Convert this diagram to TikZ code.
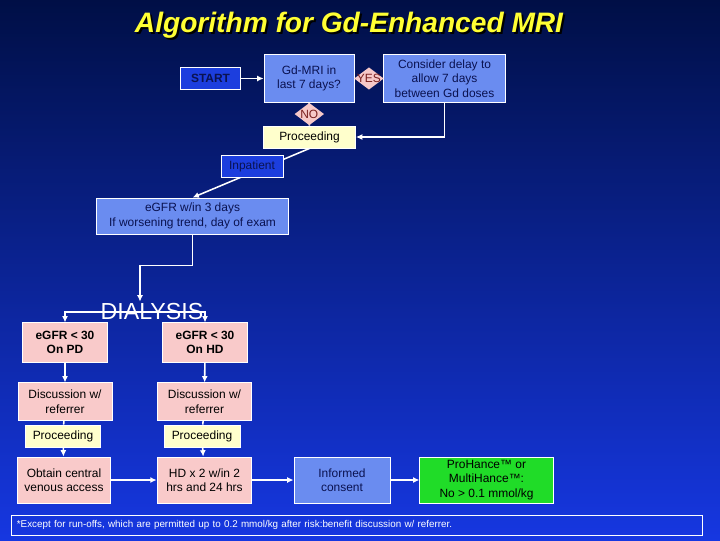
\documentclass[tikz,border=0pt]{standalone}
\usepackage{fontspec}
\setmainfont{Liberation Sans}
\usetikzlibrary{positioning, arrows.meta, shapes.geometric}

\definecolor{bgtop}{RGB}{0,15,70}
\definecolor{bgmid}{RGB}{12,40,165}
\definecolor{bgbottom}{RGB}{22,55,225}
\definecolor{lightblue}{RGB}{106,140,240}
\definecolor{midblue}{RGB}{28,62,222}
\definecolor{darktext}{RGB}{10,18,80}
\definecolor{pinkfill}{RGB}{249,202,202}
\definecolor{pinkdiamond}{RGB}{246,200,200}
\definecolor{diamondtext}{RGB}{120,30,30}
\definecolor{yellowfill}{RGB}{255,255,204}
\definecolor{greenfill}{RGB}{32,220,40}
\definecolor{titleyellow}{RGB}{255,255,51}

\begin{document}
\begin{tikzpicture}[
    x=0.025cm, y=-0.025cm,
    box/.style={draw=white, line width=0.6pt, inner sep=1pt, align=center, font=\fontsize{8.5}{10.3}\selectfont, text=darktext},
    bluebox/.style={box, fill=lightblue},
    darkbox/.style={box, fill=midblue, minimum height=0.53cm},
    pinkbox/.style={box, fill=pinkfill, text=black},
    yellowbox/.style={box, fill=yellowfill, text=black, minimum height=0.55cm},
    greenbox/.style={box, fill=greenfill, text=black},
    decision/.style={diamond, fill=pinkdiamond, minimum width=0.75cm, minimum height=0.57cm, inner sep=0pt},
    arrow/.style={-{Latex[length=1.6mm, width=1.5mm]}, white, line width=1.1pt},
    link/.style={white, line width=1.1pt},
    titletext/.style={font=\bfseries\itshape\fontsize{20}{22}\selectfont}
]

% Background
\useasboundingbox (0,0) rectangle (720,540);
\shade[top color=bgtop, middle color=bgmid, bottom color=bgbottom] (0,0) rectangle (720,540);

% Title
\node[titletext, text=black] (titleshadow) at (351,27) {Algorithm for Gd-Enhanced MRI};
\node[titletext, text=titleyellow] (title) at (349,25) {Algorithm for Gd-Enhanced MRI};

% Top row
\node[darkbox, minimum width=1.48cm, font=\bfseries\fontsize{8.5}{10}\selectfont] (start) at (210.5,78.5) {START};
\node[bluebox, minimum width=2.25cm, minimum height=1.18cm] (gdmri) at (309,78.5) {Gd-MRI in\\last 7 days?};
\node[bluebox, minimum width=3.03cm, minimum height=1.18cm] (consider) at (444.5,78.5) {Consider delay to\\allow 7 days\\between Gd doses};
\node[yellowbox, minimum width=2.3cm] (proceed) at (309.5,137) {Proceeding};

\draw[arrow] (start) -- (gdmri);
\draw[link] (gdmri) -- node[decision, label={[text=diamondtext, font=\fontsize{8.5}{10}\selectfont]center:YES}] (yes) {} (consider);
\draw[link] (gdmri) -- node[decision, label={[text=diamondtext, font=\fontsize{8.5}{10}\selectfont]center:NO}] (no) {} (proceed);
\draw[arrow] (consider.south) |- (proceed.east);

% Inpatient branch
\node[bluebox, minimum width=4.78cm, minimum height=0.9cm] (egfr) at (192.5,216) {eGFR w/in 3 days\\If worsening trend, day of exam};
\draw[arrow] (proceed.south) -- (egfr.north);
\node[darkbox, minimum width=1.55cm] (inpatient) at (252,166.5) {Inpatient};

% Dialysis split
\node[text=white, inner sep=1pt, font=\fontsize{16.5}{16.5}\selectfont] (dialysis) at (152,311.5) {DIALYSIS};
\draw[arrow] (egfr.south) -- ++(0,31) -| ([xshift=-0.3cm]dialysis.north);
\coordinate (split) at (140,312);

\node[pinkbox, minimum width=2.13cm, minimum height=0.98cm, font=\bfseries\fontsize{8.5}{10.3}\selectfont] (pd) at (65,342.5) {eGFR < 30\\On PD};
\node[pinkbox, minimum width=2.13cm, minimum height=0.98cm, font=\bfseries\fontsize{8.5}{10.3}\selectfont] (hd) at (205,342.5) {eGFR < 30\\On HD};
\draw[arrow] (split) -| (pd.north);
\draw[arrow] (split) -| (hd.north);

% PD column
\node[pinkbox, minimum width=2.35cm, minimum height=0.93cm] (discpd) at (65,401.5) {Discussion w/\\referrer};
\node[yellowbox, minimum width=1.88cm] (procpd) at (63,436) {Proceeding};
\node[pinkbox, minimum width=2.33cm, minimum height=1.15cm] (access) at (64,480) {Obtain central\\venous access};
\draw[arrow] (pd) -- (discpd);
\draw[link] (discpd) -- (procpd);
\draw[arrow] (procpd) -- (access);

% HD column
\node[pinkbox, minimum width=2.37cm, minimum height=0.93cm] (dischd) at (204.5,401.5) {Discussion w/\\referrer};
\node[yellowbox, minimum width=1.9cm] (prochd) at (202,436) {Proceeding};
\node[pinkbox, minimum width=2.37cm, minimum height=1.15cm] (dialyse) at (204.5,480) {HD x 2 w/in 2\\hrs and 24 hrs};
\draw[arrow] (hd) -- (dischd);
\draw[link] (dischd) -- (prochd);
\draw[arrow] (prochd) -- (dialyse);

% Bottom row
\node[bluebox, minimum width=2.4cm, minimum height=1.15cm] (consent) at (342,480) {Informed\\consent};
\node[greenbox, minimum width=3.33cm, minimum height=1.15cm] (agent) at (486.5,480) {ProHance™ or\\MultiHance™:\\No > 0.1 mmol/kg};
\draw[arrow] (access) -- (dialyse);
\draw[arrow] (dialyse) -- (consent);
\draw[arrow] (consent) -- (agent);

% Footnote
\node[draw=white, line width=0.6pt, inner xsep=0.125cm, inner ysep=0pt, text width=17cm, minimum height=0.5cm, align=left, text=white, font=\fontsize{7}{8}\selectfont] (note) at (357,525) {*Except for run-offs, which are permitted up to 0.2 mmol/kg after risk:benefit discussion w/ referrer.};

\end{tikzpicture}
\end{document}
